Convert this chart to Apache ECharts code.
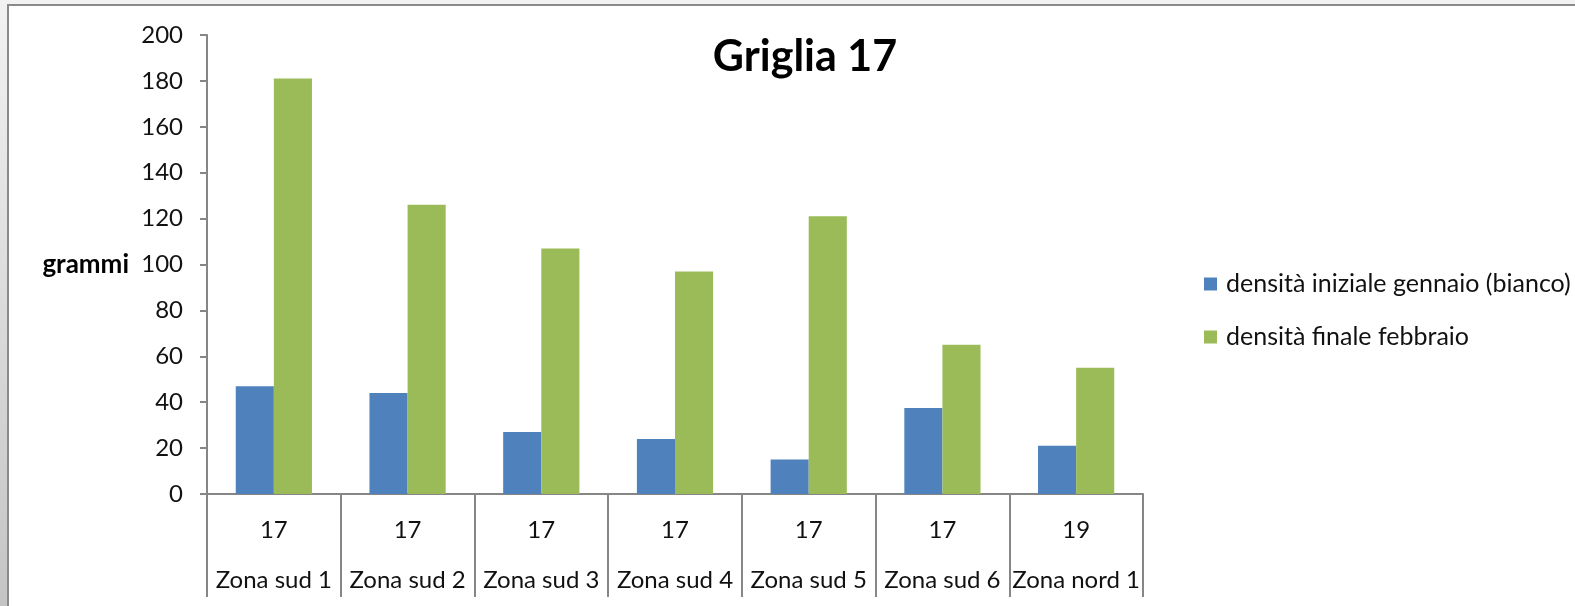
<!DOCTYPE html>
<html>
<head>
<meta charset="utf-8">
<script src="https://cdn.jsdelivr.net/npm/echarts@6/dist/echarts.min.js"></script>
<style>
html,body{margin:0;padding:0;background:#fff;}
#chart{width:1575px;height:606px;}
</style>
</head>
<body>
<div id="chart"></div>
<script>
const categories = ['Zona sud 1','Zona sud 2','Zona sud 3','Zona sud 4','Zona sud 5','Zona sud 6','Zona nord 1'];
const gridNumbers = ['17','17','17','17','17','17','19'];
const seriesNames = ['densità iniziale gennaio (bianco)','densità finale febbraio'];
const initialJan = [47, 44, 27, 24, 15, 37.5, 21];
const finalFeb = [181, 126, 107, 97, 121, 65, 55];
const yTicks = [0, 20, 40, 60, 80, 100, 120, 140, 160, 180, 200];

const FONT = 'Lato';
const chart = echarts.init(document.getElementById('chart'), null, {renderer:'canvas'});
chart.setOption({
  backgroundColor: '#ffffff',
  animation: false,
  textStyle: {fontFamily: FONT},
  graphic: [
    {type:'rect', shape:{x:0,y:0,width:1575,height:4}, style:{fill:'#f2f2f2'}, silent:true},
    {type:'rect', shape:{x:0,y:0,width:7,height:606}, style:{fill:new echarts.graphic.LinearGradient(0,0,0,1,[{offset:0,color:'#f2f2f2'},{offset:1,color:'#c4c4c4'}])}, silent:true},
    {type:'rect', shape:{x:7,y:4,width:1568,height:2}, style:{fill:'#8a8a8a'}, silent:true},
    {type:'rect', shape:{x:7,y:4,width:2,height:602}, style:{fill:'#8a8a8a'}, silent:true}
  ],
  title: {
    text: 'Griglia 17',
    left: 800, top: 31, textAlign: 'center',
    textStyle: {fontFamily: FONT, fontWeight: 'bold', fontSize: 43, color: '#000'}
  },
  legend: {
    orient: 'vertical',
    left: 1199, top: 265,
    itemWidth: 13, itemHeight: 13, itemGap: 25,
    icon: 'rect',
    data: seriesNames,
    textStyle: {fontFamily: FONT, fontSize: 25, color: '#111', lineHeight: 28, padding:[0,0,0,4]}
  },
  grid: {left: 207, top: 35, width: 936, height: 459, containLabel: false},
  xAxis: {
    type: 'category',
    data: categories,
    boundaryGap: true,
    axisLine: {lineStyle: {color: '#868686', width: 2}},
    axisTick: {show: true, length: 103, alignWithLabel: false, lineStyle: {color: '#868686', width: 2}},
    axisLabel: {
      interval: 0,
      margin: 13,
      formatter: function (value, idx) { return '{a|' + gridNumbers[idx] + '}\n{b|' + value + '}'; },
      rich: {
        a: {fontFamily: FONT, fontSize: 24, color: '#111', lineHeight: 46},
        b: {fontFamily: FONT, fontSize: 24, color: '#111', lineHeight: 54}
      }
    }
  },
  yAxis: {
    type: 'value',
    min: 0, max: 200, interval: 20,
    name: 'grammi',
    nameLocation: 'middle',
    nameRotate: 0,
    nameGap: 78,
    nameTextStyle: {fontFamily: FONT, fontWeight: 'bold', fontSize: 26, color: '#000', align: 'right'},
    axisLine: {show: true, lineStyle: {color: '#868686', width: 2}},
    axisTick: {show: true, length: 7, lineStyle: {color: '#868686', width: 2}},
    splitLine: {show: false},
    axisLabel: {
      margin: 24,
      fontFamily: FONT, fontSize: 24, color: '#111',
      formatter: function (v) { return yTicks.indexOf(v) >= 0 ? String(v) : ''; }
    }
  },
  series: [
    {name: seriesNames[0], type: 'bar', data: initialJan, barGap: '0%', barCategoryGap: '43%',
     itemStyle: {color: '#4F81BD'}},
    {name: seriesNames[1], type: 'bar', data: finalFeb, barGap: '0%', barCategoryGap: '43%',
     itemStyle: {color: '#9BBB59'}}
  ]
});
</script>
</body>
</html>
